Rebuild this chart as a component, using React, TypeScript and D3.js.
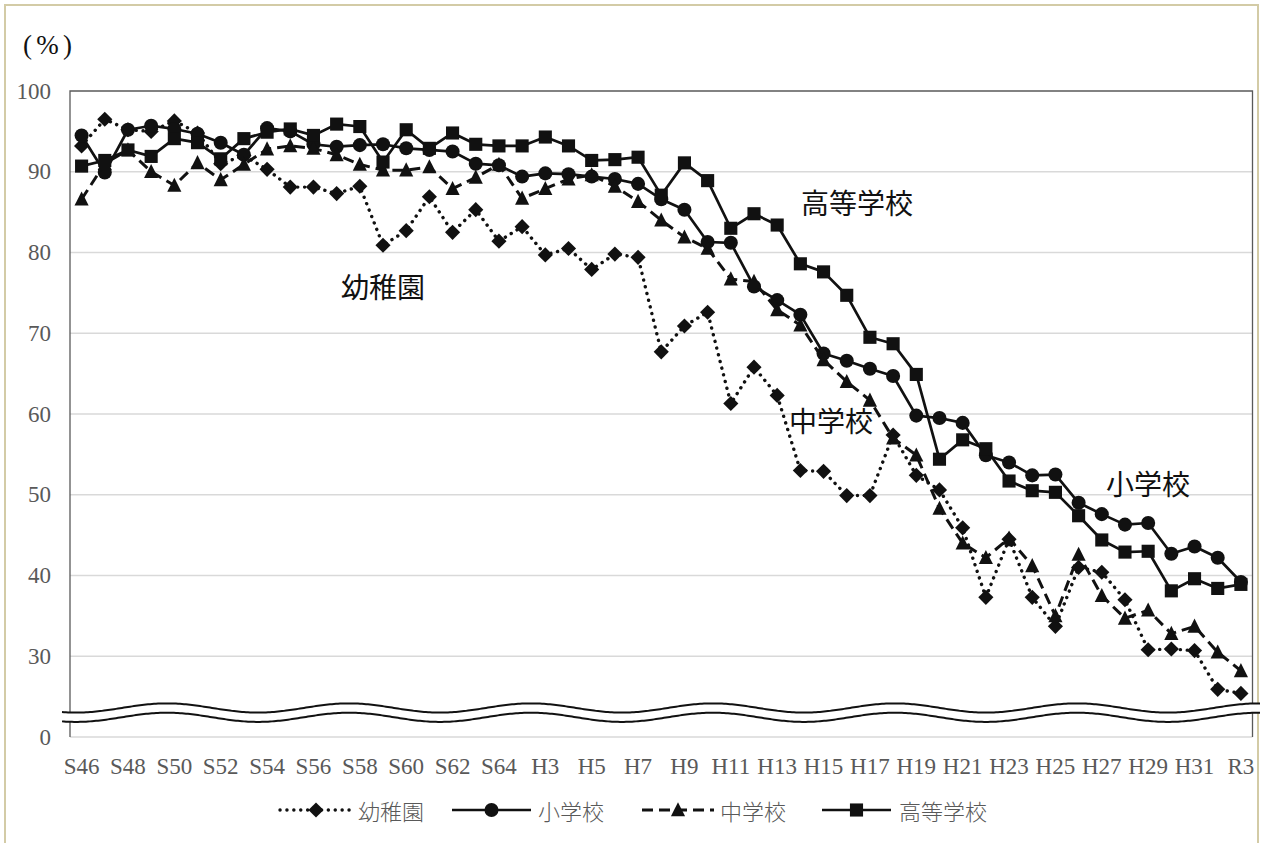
import React from "react";
import * as d3 from "d3";

const categories = [
  "S46","S47","S48","S49","S50","S51","S52","S53","S54","S55",
  "S56","S57","S58","S59","S60","S61","S62","S63","S64","H2",
  "H3","H4","H5","H6","H7","H8","H9","H10","H11","H12",
  "H13","H14","H15","H16","H17","H18","H19","H20","H21","H22",
  "H23","H24","H25","H26","H27","H28","H29","H30","H31","R2","R3",
];

const kindergarten = [
  93.2, 96.5, 95.2, 95.0, 96.3, 94.8, 91.0, 92.0, 90.3, 88.1,
  88.1, 87.3, 88.2, 80.9, 82.7, 86.9, 82.5, 85.3, 81.4, 83.2,
  79.7, 80.5, 77.9, 79.8, 79.4, 67.7, 70.9, 72.6, 61.3, 65.8,
  62.3, 53.0, 52.9, 49.9, 49.9, 57.4, 52.4, 50.6, 45.9, 37.3,
  44.5, 37.3, 33.7, 41.0, 40.4, 37.0, 30.8, 30.9, 30.7, 25.9, 25.4,
];

const elementary = [
  94.5, 89.9, 95.2, 95.7, 95.3, 94.7, 93.6, 92.1, 95.4, 95.0,
  93.4, 93.1, 93.3, 93.4, 92.9, 92.7, 92.5, 91.0, 90.8, 89.4,
  89.8, 89.7, 89.4, 89.1, 88.5, 86.6, 85.3, 81.3, 81.2, 75.8,
  74.1, 72.3, 67.5, 66.6, 65.6, 64.7, 59.8, 59.5, 58.9, 54.9,
  54.0, 52.4, 52.5, 49.0, 47.6, 46.3, 46.5, 42.7, 43.6, 42.2, 39.2,
];

const juniorHigh = [
  86.6, 91.0, 92.7, 90.0, 88.3, 91.1, 89.0, 90.9, 92.8, 93.2,
  92.9, 92.1, 90.9, 90.2, 90.2, 90.6, 87.9, 89.3, 90.9, 86.7,
  87.9, 89.1, 89.6, 88.2, 86.3, 84.0, 81.9, 80.5, 76.7, 76.4,
  72.9, 71.0, 66.7, 64.0, 61.7, 57.0, 54.9, 48.3, 44.0, 42.2,
  44.6, 41.2, 35.0, 42.6, 37.5, 34.7, 35.7, 32.8, 33.7, 30.5, 28.2,
];

const highSchool = [
  90.7, 91.4, 92.7, 91.9, 94.1, 93.6, 91.6, 94.1, 94.9, 95.3,
  94.5, 95.9, 95.6, 91.2, 95.2, 92.9, 94.8, 93.4, 93.2, 93.2,
  94.3, 93.2, 91.4, 91.5, 91.8, 87.1, 91.1, 88.9, 83.0, 84.8,
  83.4, 78.6, 77.6, 74.7, 69.5, 68.7, 64.9, 54.4, 56.8, 55.7,
  51.7, 50.5, 50.3, 47.4, 44.4, 42.9, 43.0, 38.1, 39.6, 38.4, 38.9,
];

const seriesNames = ["幼稚園", "小学校", "中学校", "高等学校"];
const yTicks = [30, 40, 50, 60, 70, 80, 90, 100];
const breakTickValue = 20;
const breakTickLabel = "0";
const unitLabel = "(%)";

const diamondType = {
  draw(ctx: any, size: number) {
    const r = Math.sqrt(size / 2);
    ctx.moveTo(0, -r);
    ctx.lineTo(r, 0);
    ctx.lineTo(0, r);
    ctx.lineTo(-r, 0);
    ctx.closePath();
  },
};
const triangleType = {
  draw(ctx: any, size: number) {
    const w = Math.sqrt(size);
    ctx.moveTo(0, -w * 0.55);
    ctx.lineTo(w / 2, w * 0.45);
    ctx.lineTo(-w / 2, w * 0.45);
    ctx.closePath();
  },
};

const INK = "#111111";
const TICK = "#595959";
const SERIF = "'Liberation Serif', 'DejaVu Serif', serif";
const CJK = "'Noto Sans CJK JP', 'Noto Sans', sans-serif";

export default function App() {
  const W = 1262;
  const H = 843;
  const left = 70;
  const right = 1252.5;
  const top = 91;
  const bottom = 737;

  const x = d3.scaleBand<string>().domain(categories).range([left, right]);
  const cx = (c: string) => (x(c) as number) + x.bandwidth() / 2;
  const y = d3.scaleLinear().domain([breakTickValue, 100]).range([bottom, top]);

  const series = [
    { name: seriesNames[0], values: kindergarten, dash: "0.1 6.8", width: 3.4, cap: "round", type: diamondType, size: 115 },
    { name: seriesNames[1], values: elementary, dash: "", width: 2.7, cap: "butt", type: d3.symbolCircle, size: 155 },
    { name: seriesNames[2], values: juniorHigh, dash: "11 6", width: 3, cap: "butt", type: triangleType, size: 200 },
    { name: seriesNames[3], values: highSchool, dash: "", width: 2.7, cap: "butt", type: d3.symbolSquare, size: 172 },
  ];

  const line = d3
    .line<number>()
    .x((_, i) => cx(categories[i]))
    .y((d) => y(d));

  // axis-break wave
  const wavePeak = 1077;
  const wavePeriod = 182;
  const waveAmp = 4.6;
  const waveMid = 708;
  const waveGap = 9.3;
  const waveXs = d3.range(62, 1261, 2);
  const upper = (wx: number) => waveMid - waveAmp * Math.cos((2 * Math.PI * (wx - wavePeak)) / wavePeriod);
  const waveUpper = d3.line<number>().x((d) => d).y((d) => upper(d));
  const waveLower = d3.line<number>().x((d) => d).y((d) => upper(d) + waveGap);
  const waveFill = d3
    .area<number>()
    .x((d) => d)
    .y0((d) => upper(d))
    .y1((d) => upper(d) + waveGap);

  const legendItems = [
    { x0: 280, x1: 352, tx: 358 },
    { x0: 452, x1: 531, tx: 538 },
    { x0: 642, x1: 714, tx: 720 },
    { x0: 822, x1: 891, tx: 899 },
  ];
  const legendY = 810;

  const annotations = [
    { name: seriesNames[0], x: 341, y: 286 },
    { name: seriesNames[3], x: 801, y: 202 },
    { name: seriesNames[2], x: 789, y: 420 },
    { name: seriesNames[1], x: 1106, y: 483 },
  ];

  return (
    <>
      <style>{`body{margin:0;overflow:hidden;background:#fff}`}</style>
      <svg width={W} height={H} style={{ position: "absolute", left: 0, top: 0, display: "block" }}>
        <rect x={0} y={0} width={W} height={H} fill="#fff" />
        {/* outer frame */}
        <rect x={5} y={5} width={1253} height={H + 10} fill="none" stroke="#d3cba6" strokeWidth={2} />

        {/* unit label */}
        <text x={23} y={45} fontFamily={SERIF} fontSize={27} fill={INK} dominantBaseline="central" textLength={49} lengthAdjust="spacing">
          {unitLabel}
        </text>

        {/* grid */}
        {yTicks.filter((t) => t < 100).map((t) => (
          <line key={t} x1={left} x2={right} y1={y(t)} y2={y(t)} stroke="#d9d9d9" strokeWidth={1.5} />
        ))}
        <line x1={left} x2={right} y1={y(breakTickValue)} y2={y(breakTickValue)} stroke="#d9d9d9" strokeWidth={1.5} />
        {/* plot border */}
        <path d={`M${left},${bottom}V${top}H${right}V${bottom}`} fill="none" stroke="#595959" strokeWidth={1.3} />

        {/* y tick labels */}
        {yTicks.map((t) => (
          <text key={t} x={51} y={y(t)} textAnchor="end" dominantBaseline="central" fontFamily={SERIF} fontSize={23} fill={TICK}>
            {t}
          </text>
        ))}
        <text x={51} y={y(breakTickValue)} textAnchor="end" dominantBaseline="central" fontFamily={SERIF} fontSize={23} fill={TICK}>
          {breakTickLabel}
        </text>

        {/* x tick labels */}
        {categories.map((c, i) =>
          i % 2 === 0 ? (
            <text key={c} x={cx(c)} y={766} textAnchor="middle" dominantBaseline="central" fontFamily={SERIF} fontSize={23} fill={TICK}>
              {c}
            </text>
          ) : null
        )}

        {/* series */}
        {series.map((s) => (
          <g key={s.name}>
            <path
              d={line(s.values) || ""}
              fill="none"
              stroke={INK}
              strokeWidth={s.width}
              strokeDasharray={s.dash || undefined}
              strokeLinecap={s.cap as any}
              strokeLinejoin="round"
            />
            {s.values.map((v, i) => (
              <path
                key={i}
                transform={`translate(${cx(categories[i])},${y(v)})`}
                d={d3.symbol().type(s.type as any).size(s.size)() || ""}
                fill={INK}
              />
            ))}
          </g>
        ))}

        {/* axis break */}
        <path d={waveFill(waveXs) || ""} fill="#fff" stroke="none" />
        <path d={waveUpper(waveXs) || ""} fill="none" stroke={INK} strokeWidth={2} />
        <path d={waveLower(waveXs) || ""} fill="none" stroke={INK} strokeWidth={2} />

        {/* annotations */}
        {annotations.map((a) => (
          <text key={a.name} x={a.x} y={a.y} dominantBaseline="central" fontFamily={CJK} fontSize={28} fill={INK}>
            {a.name}
          </text>
        ))}

        {/* legend */}
        {series.map((s, i) => {
          const it = legendItems[i];
          const mid = (it.x0 + it.x1) / 2;
          return (
            <g key={s.name}>
              <line
                x1={it.x0}
                x2={it.x1}
                y1={legendY}
                y2={legendY}
                stroke={INK}
                strokeWidth={s.width}
                strokeDasharray={s.dash || undefined}
                strokeLinecap={s.cap as any}
              />
              <path transform={`translate(${mid},${legendY})`} d={d3.symbol().type(s.type as any).size(s.size)() || ""} fill={INK} />
              <text x={it.tx} y={legendY} dominantBaseline="central" fontFamily={CJK} fontSize={22} fontWeight={300} fill={TICK}>
                {s.name}
              </text>
            </g>
          );
        })}
      </svg>
    </>
  );
}
